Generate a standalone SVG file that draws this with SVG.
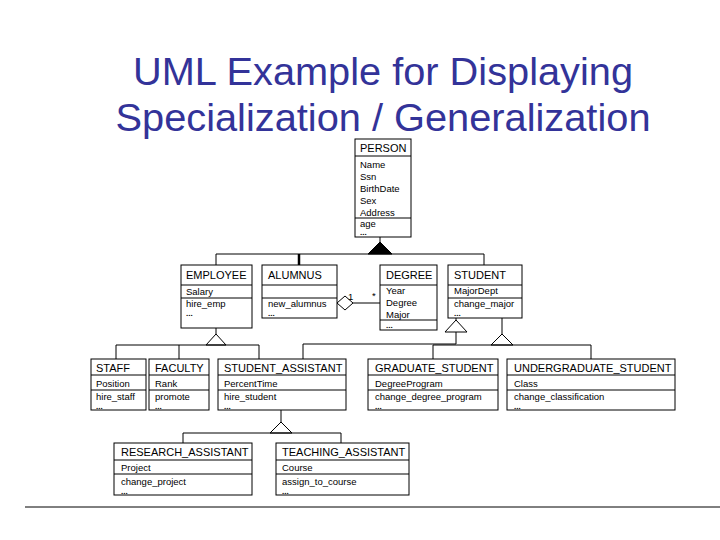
<svg xmlns="http://www.w3.org/2000/svg" width="720" height="540" viewBox="0 0 720 540">
<style>
.t{font-family:"Liberation Sans",Arial,sans-serif;font-size:38px;fill:#333399;text-anchor:middle}
.n{font-family:"Liberation Sans",Arial,sans-serif;font-size:11px;fill:#000}
.s{font-family:"Liberation Sans",Arial,sans-serif;font-size:9.5px;fill:#000}
.d{font-family:"Liberation Sans",Arial,sans-serif;font-size:8px;font-weight:bold;fill:#000}
rect{fill:#fff;stroke:#000;stroke-width:1}
line,polyline{stroke:#000;stroke-width:1;fill:none}
.h{fill:#fff;stroke:#000}
</style>
<rect x="0" y="0" width="720" height="540" style="stroke:none"/>
<text class="t" x="383" y="85" textLength="500" lengthAdjust="spacingAndGlyphs">UML Example for Displaying</text>
<text class="t" x="383" y="131" textLength="535" lengthAdjust="spacingAndGlyphs">Specialization / Generalization</text>
<g id="connectors">
<line x1="380" y1="237" x2="380" y2="242"/>
<polygon points="380,242 368,254 392,254" fill="#000" stroke="#000"/>
<line x1="216" y1="254" x2="484" y2="254"/>
<line x1="216" y1="254" x2="216" y2="265"/>
<line x1="299" y1="254" x2="299" y2="265" style="stroke-width:2.5"/>
<line x1="484" y1="254" x2="484" y2="265"/>
<polygon class="h" points="337,303 345,296 353,303 345,310"/>
<line x1="353" y1="303" x2="380" y2="303"/>
<text class="s" x="348" y="300">1</text>
<text class="s" x="372" y="299">*</text>
<line x1="216" y1="328" x2="216" y2="334"/>
<polygon class="h" points="216,334 206,345 226,345"/>
<polyline points="116,359 116,345 259,345 259,359"/>
<line x1="179" y1="345" x2="179" y2="359"/>
<line x1="456" y1="318" x2="456" y2="320"/>
<polygon class="h" points="456,320 445,332 467,332"/>
<polyline points="456,332 456,344 303,344 303,359"/>
<line x1="502" y1="318" x2="502" y2="334"/>
<polygon class="h" points="502,334 491,345 513,345"/>
<polyline points="433,359 433,345 591,345 591,359"/>
<line x1="281" y1="410" x2="281" y2="422"/>
<polygon class="h" points="281,422 270,433 292,433"/>
<polyline points="183,443 183,433 341,433 341,443"/>
<line x1="25" y1="507" x2="720" y2="507"/>
</g>
<g id="person"><rect x="355" y="139" width="56" height="98"/><line x1="355" y1="156" x2="411" y2="156"/><line x1="355" y1="218" x2="411" y2="218"/>
<text class="n" x="360" y="152">PERSON</text><text class="s" x="360" y="168">Name</text><text class="s" x="360" y="180">Ssn</text><text class="s" x="360" y="192">BirthDate</text><text class="s" x="360" y="204">Sex</text><text class="s" x="360" y="216">Address</text><text class="s" x="360" y="227">age</text><text class="d" x="360" y="235">...</text></g>
<g id="employee"><rect x="181" y="265" width="71" height="63"/><line x1="181" y1="285" x2="252" y2="285"/><line x1="181" y1="298" x2="252" y2="298"/>
<text class="n" x="186" y="279">EMPLOYEE</text><text class="s" x="186" y="295">Salary</text><text class="s" x="186" y="307">hire_emp</text><text class="d" x="186" y="316">...</text></g>
<g id="alumnus"><rect x="262" y="265" width="75" height="53"/><line x1="262" y1="285" x2="337" y2="285"/><line x1="262" y1="298" x2="337" y2="298"/>
<text class="n" x="268" y="279">ALUMNUS</text><text class="s" x="268" y="307">new_alumnus</text><text class="d" x="268" y="316">...</text></g>
<g id="degree"><rect x="380" y="265" width="57" height="65"/><line x1="380" y1="285" x2="437" y2="285"/><line x1="380" y1="320" x2="437" y2="320"/>
<text class="n" x="386" y="279">DEGREE</text><text class="s" x="386" y="294">Year</text><text class="s" x="386" y="306">Degree</text><text class="s" x="386" y="318">Major</text><text class="d" x="386" y="328">...</text></g>
<g id="student"><rect x="448" y="265" width="74" height="53"/><line x1="448" y1="285" x2="522" y2="285"/><line x1="448" y1="298" x2="522" y2="298"/>
<text class="n" x="454" y="279">STUDENT</text><text class="s" x="454" y="294">MajorDept</text><text class="s" x="454" y="307">change_major</text><text class="d" x="454" y="316">...</text></g>
<g id="staff"><rect x="91" y="359" width="55" height="51"/><line x1="91" y1="375" x2="146" y2="375"/><line x1="91" y1="390" x2="146" y2="390"/>
<text class="n" x="96" y="372">STAFF</text><text class="s" x="96" y="387">Position</text><text class="s" x="96" y="400">hire_staff</text><text class="d" x="96" y="409">...</text></g>
<g id="faculty"><rect x="149" y="359" width="60" height="51"/><line x1="149" y1="375" x2="209" y2="375"/><line x1="149" y1="390" x2="209" y2="390"/>
<text class="n" x="155" y="372">FACULTY</text><text class="s" x="155" y="387">Rank</text><text class="s" x="155" y="400">promote</text><text class="d" x="155" y="409">...</text></g>
<g id="student_assistant"><rect x="218" y="359" width="128" height="51"/><line x1="218" y1="375" x2="346" y2="375"/><line x1="218" y1="390" x2="346" y2="390"/>
<text class="n" x="224" y="372">STUDENT_ASSISTANT</text><text class="s" x="224" y="387">PercentTime</text><text class="s" x="224" y="400">hire_student</text><text class="d" x="224" y="409">...</text></g>
<g id="graduate_student"><rect x="368" y="359" width="130" height="51"/><line x1="368" y1="375" x2="498" y2="375"/><line x1="368" y1="390" x2="498" y2="390"/>
<text class="n" x="375" y="372">GRADUATE_STUDENT</text><text class="s" x="375" y="387">DegreeProgram</text><text class="s" x="375" y="400">change_degree_program</text><text class="d" x="375" y="409">...</text></g>
<g id="undergraduate_student"><rect x="507" y="359" width="168" height="51"/><line x1="507" y1="375" x2="675" y2="375"/><line x1="507" y1="390" x2="675" y2="390"/>
<text class="n" x="514" y="372">UNDERGRADUATE_STUDENT</text><text class="s" x="514" y="387">Class</text><text class="s" x="514" y="400">change_classification</text><text class="d" x="514" y="409">...</text></g>
<g id="research_assistant"><rect x="114" y="443" width="138" height="52"/><line x1="114" y1="460" x2="252" y2="460"/><line x1="114" y1="474" x2="252" y2="474"/>
<text class="n" x="121" y="456">RESEARCH_ASSISTANT</text><text class="s" x="121" y="471">Project</text><text class="s" x="121" y="485">change_project</text><text class="d" x="121" y="494">...</text></g>
<g id="teaching_assistant"><rect x="276" y="443" width="133" height="52"/><line x1="276" y1="460" x2="409" y2="460"/><line x1="276" y1="474" x2="409" y2="474"/>
<text class="n" x="282" y="456">TEACHING_ASSISTANT</text><text class="s" x="282" y="471">Course</text><text class="s" x="282" y="485">assign_to_course</text><text class="d" x="282" y="494">...</text></g>
</svg>
